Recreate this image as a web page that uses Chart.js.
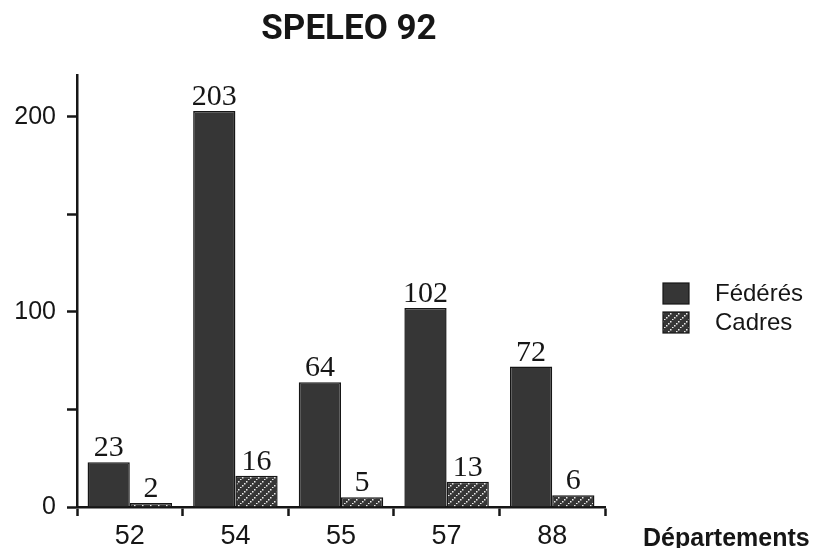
<!DOCTYPE html>
<html>
<head>
<meta charset="utf-8">
<script src="https://cdn.jsdelivr.net/npm/chart.js@4.4.1/dist/chart.umd.min.js"></script>
<style>
  html, body { margin: 0; padding: 0; background: #fff; }
  canvas { display: block; }
</style>
</head>
<body>
<canvas id="chart" width="816" height="548"></canvas>
<script>
// Membership per département
const departements = ['52', '54', '55', '57', '88'];
const federes = [23, 203, 64, 102, 72];
const cadres = [2, 16, 5, 13, 6];
const yTickLabels = [0, 100, 200];
const seriesNames = ['Fédérés', 'Cadres'];
const chartTitle = 'SPELEO 92';
const xAxisTitle = 'Départements';

const INK = '#161616';
const BAR_FILL = '#363636';

// Dark fill crossed by dotted light diagonals
function makeHatch(ctx) {
  const tile = document.createElement('canvas');
  tile.width = 8; tile.height = 8;
  const g = tile.getContext('2d');
  g.fillStyle = BAR_FILL;
  g.fillRect(0, 0, 8, 8);
  g.fillStyle = '#ececec';
  for (let i = 0; i < 8; i += 2) {
    g.fillRect(i, 7 - i, 1.5, 1.5);
  }
  return ctx.createPattern(tile, 'repeat');
}

const canvas = document.getElementById('chart');
const ctx0 = canvas.getContext('2d');
const hatch = makeHatch(ctx0);

// Numbers above each bar, title, legend and axis name
const decorations = {
  id: 'decorations',
  afterDatasetsDraw(chart) {
    const ctx = chart.ctx;
    ctx.save();
    ctx.fillStyle = INK;
    ctx.font = '30px "Liberation Serif", "Times New Roman", serif';
    ctx.textAlign = 'center';
    ctx.textBaseline = 'alphabetic';
    chart.data.datasets.forEach((ds, i) => {
      chart.getDatasetMeta(i).data.forEach((bar, j) => {
        ctx.fillText(String(ds.data[j]), bar.x, bar.y - 6);
      });
    });
    ctx.restore();
  },
  afterDraw(chart) {
    const ctx = chart.ctx;
    ctx.save();
    ctx.fillStyle = INK;

    // Title
    ctx.font = 'bold 35px Roboto, "Liberation Sans", Arial, sans-serif';
    ctx.textAlign = 'center';
    ctx.textBaseline = 'alphabetic';
    ctx.fillText(chartTitle, 349, 39);

    // Legend
    const fills = [BAR_FILL, hatch];
    const rows = [283, 312];
    ctx.font = '24px "Liberation Sans", Arial, sans-serif';
    ctx.textAlign = 'left';
    ctx.textBaseline = 'middle';
    seriesNames.forEach((name, i) => {
      ctx.fillStyle = fills[i];
      ctx.fillRect(663, rows[i], 26, 21);
      ctx.strokeStyle = INK;
      ctx.lineWidth = 1.2;
      ctx.strokeRect(663, rows[i], 26, 21);
      ctx.fillStyle = INK;
      ctx.fillText(name, 715, rows[i] + 11);
    });

    // X axis name
    ctx.font = 'bold 25px "Liberation Sans", Arial, sans-serif';
    ctx.textBaseline = 'alphabetic';
    ctx.fillText(xAxisTitle, 643, 546);
    ctx.restore();
  }
};

new Chart(canvas, {
  type: 'bar',
  data: {
    labels: departements,
    datasets: [
      {
        label: seriesNames[0],
        data: federes,
        backgroundColor: BAR_FILL,
        borderColor: INK,
        borderWidth: 1.5,
        categoryPercentage: 0.8,
        barPercentage: 1.0
      },
      {
        label: seriesNames[1],
        data: cadres,
        backgroundColor: hatch,
        borderColor: INK,
        borderWidth: 1.5,
        categoryPercentage: 0.8,
        barPercentage: 1.0
      }
    ]
  },
  options: {
    responsive: false,
    devicePixelRatio: 1,
    animation: false,
    layout: { padding: { top: 75, right: 211, bottom: 0, left: 0 } },
    plugins: {
      legend: { display: false },
      title: { display: false },
      tooltip: { enabled: false }
    },
    scales: {
      x: {
        ticks: {
          color: INK,
          padding: 4,
          font: { family: '"Liberation Sans", Arial, sans-serif', size: 27 }
        },
        grid: {
          offset: true,
          drawOnChartArea: false,
          drawTicks: true,
          tickLength: 9,
          tickColor: INK,
          tickWidth: 2.5
        },
        border: { display: true, color: INK, width: 2.5 },
        afterFit(scale) { scale.height = 41; }
      },
      y: {
        min: 0,
        max: 221.5,
        ticks: {
          stepSize: 50,
          includeBounds: false,
          color: INK,
          padding: 11,
          font: { family: '"Liberation Sans", Arial, sans-serif', size: 25 },
          callback: (v) => (yTickLabels.includes(v) ? String(v) : '')
        },
        grid: {
          drawOnChartArea: false,
          drawTicks: true,
          tickLength: 10,
          tickColor: INK,
          tickWidth: 2.5
        },
        border: { display: true, color: INK, width: 2.5 },
        afterFit(scale) { scale.width = 77; }
      }
    }
  },
  plugins: [decorations]
});
</script>
</body>
</html>
